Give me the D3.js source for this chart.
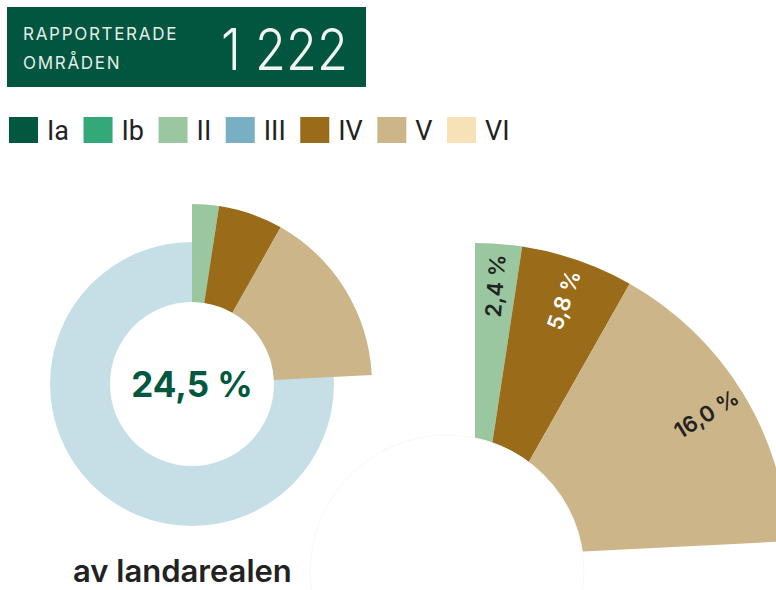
<!DOCTYPE html>
<html>
<head>
<meta charset="utf-8">
<script src="https://cdn.jsdelivr.net/npm/d3@7"></script>
<style>
  body { margin: 0; background: #fff; }
  svg { display: block; font-family: Inter, "Noto Sans", sans-serif; }
</style>
</head>
<body>
<div id="chart"></div>
<script>
// data
var categories = ["Ia", "Ib", "II", "III", "IV", "V", "VI"];
var categoryColors = ["#02583f", "#33a878", "#9ac6a0", "#78afc3", "#9a6b19", "#cdb58a", "#f6e2b6"];
var shareOfLand = [0, 0, 2.4, 0, 5.8, 16.0, 0]; // % of land area per category
var totalShare = 24.5;
var reportedAreas = 1222;
var headerLines = ["RAPPORTERADE", "OMRÅDEN"];
var footLabel = "av landarealen";

var sv = d3.formatLocale({ decimal: ",", thousands: "\u00a0", grouping: [3], currency: ["", " kr"] });
var fmtInt = sv.format(",d");
var fmtPct = function(v) { return sv.format(".1f")(v) + " %"; };

var W = 776, H = 590;

var svg = d3.select("#chart").append("svg")
  .attr("width", W)
  .attr("height", H);

// header box
var header = svg.append("g").attr("transform", "translate(7,7)");
header.append("rect")
  .attr("width", 359)
  .attr("height", 80)
  .attr("fill", "#02563f");

header.selectAll("text.hl")
  .data(headerLines)
  .enter().append("text")
  .attr("class", "hl")
  .attr("x", 16)
  .attr("y", function(d, i) { return 33 + i * 29; })
  .attr("fill", "#e4ede8")
  .style("font-size", "17px")
  .style("letter-spacing", "1.7px")
  .style("font-weight", 400)
  .text(function(d) { return d; });

header.append("text")
  .attr("x", 341)
  .attr("y", 63)
  .attr("text-anchor", "end")
  .attr("fill", "#f1f5f2")
  .attr("textLength", 127)
  .attr("lengthAdjust", "spacingAndGlyphs")
  .style("font-size", "58px")
  .style("font-weight", 300)
  .text(fmtInt(reportedAreas));

// legend, laid out by measured label widths
var legend = svg.append("g").attr("transform", "translate(9,117)");
var lx = 0;
categories.forEach(function(c, i) {
  var g = legend.append("g").attr("transform", "translate(" + lx + ",0)");
  g.append("rect")
    .attr("width", 29)
    .attr("height", 26)
    .attr("fill", categoryColors[i]);
  var t = g.append("text")
    .attr("x", 38)
    .attr("y", 23)
    .attr("fill", "#222")
    .style("font-family", "Roboto, sans-serif")
    .style("font-size", "27px")
    .text(c);
  lx += 38 + t.node().getComputedTextLength() + 14.5;
});

var slices = categories.map(function(c, i) {
  return { cat: c, value: shareOfLand[i], color: categoryColors[i] };
});

var pie = d3.pie()
  .sort(null)
  .value(function(d) { return d.value; })
  .startAngle(0)
  .endAngle(2 * Math.PI * d3.sum(shareOfLand) / 100);

var arcsData = pie(slices).filter(function(d) { return d.data.value > 0; });

// left donut
var donut = svg.append("g").attr("transform", "translate(192,384)");

donut.append("path")
  .attr("d", d3.arc().innerRadius(82).outerRadius(142)({ startAngle: 0, endAngle: 2 * Math.PI }))
  .attr("fill", "#c6dfe6");

var smallArc = d3.arc().innerRadius(82).outerRadius(180);
donut.selectAll("path.slice")
  .data(arcsData)
  .enter().append("path")
  .attr("class", "slice")
  .attr("d", smallArc)
  .attr("fill", function(d) { return d.data.color; });

donut.append("text")
  .attr("text-anchor", "middle")
  .attr("y", 13)
  .attr("fill", "#02583f")
  .style("font-size", "35px")
  .style("font-weight", 700)
  .text(fmtPct(totalShare));

// enlarged fan on the right
var fan = svg.append("g").attr("transform", "translate(475,557)");
var bigArc = d3.arc().innerRadius(0).outerRadius(314);

fan.selectAll("path.slice")
  .data(arcsData)
  .enter().append("path")
  .attr("class", "slice")
  .attr("d", bigArc)
  .attr("fill", function(d) { return d.data.color; });

// white disc cutting the fan
svg.append("circle")
  .attr("cx", 447)
  .attr("cy", 572)
  .attr("r", 137)
  .attr("fill", "#fff")
  .attr("stroke", "#f8f8f8")
  .attr("stroke-width", 1);

fan.selectAll("text.lab")
  .data(arcsData)
  .enter().append("text")
  .attr("class", "lab")
  .attr("transform", function(d) {
    var a = (d.startAngle + d.endAngle) / 2;
    var r = 272;
    var x = r * Math.sin(a), y = -r * Math.cos(a);
    return "translate(" + x + "," + y + ") rotate(" + (a * 180 / Math.PI - 90) + ")";
  })
  .attr("text-anchor", "middle")
  .attr("dy", "0.35em")
  .attr("fill", function(d) { return d.data.cat === "IV" ? "#fff" : "#222"; })
  .style("font-size", "22px")
  .style("font-weight", 600)
  .text(function(d) { return fmtPct(d.data.value); });

// caption under donut
svg.append("text")
  .attr("x", 73)
  .attr("y", 582)
  .attr("fill", "#222")
  .style("font-size", "31px")
  .style("font-weight", 600)
  .text(footLabel);
</script>
</body>
</html>
